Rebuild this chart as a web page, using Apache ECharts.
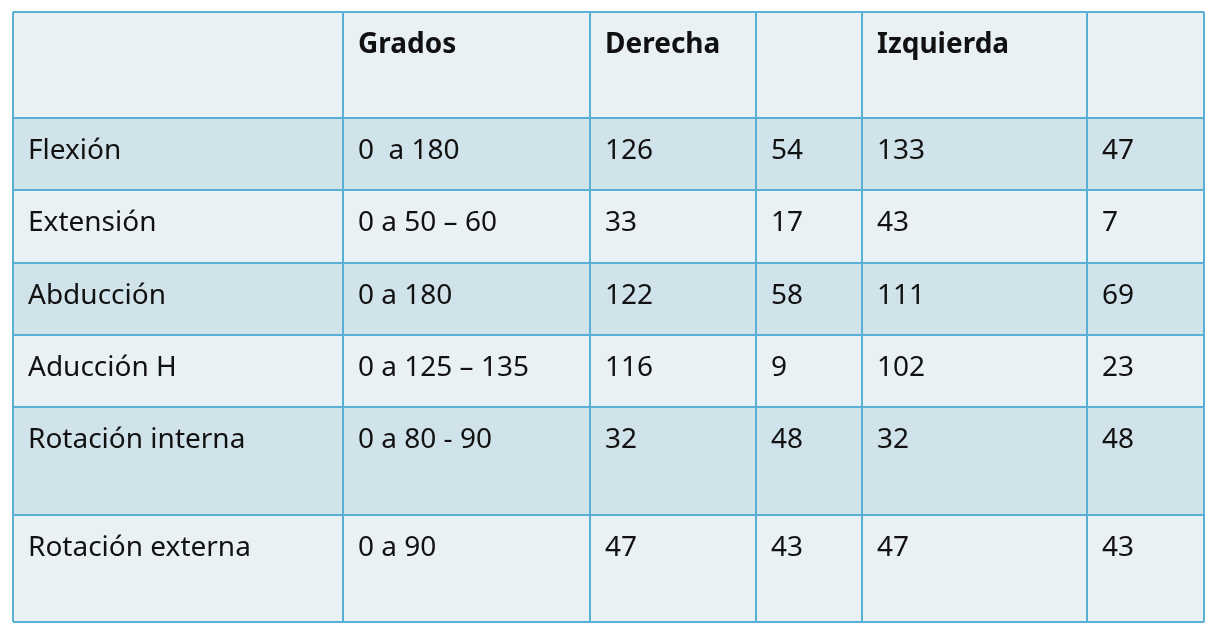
<!DOCTYPE html>
<html>
<head>
<meta charset="utf-8">
<script src="https://cdn.jsdelivr.net/npm/echarts@6/dist/echarts.min.js"></script>
<style>html,body{margin:0;padding:0;background:#fff}#chart{width:1217px;height:634px}</style>
</head>
<body>
<div id="chart"></div>
<script>
// datos de la tabla
var headers = ['', 'Grados', 'Derecha', '', 'Izquierda', ''];
var movimientos = ['Flexión', 'Extensión', 'Abducción', 'Aducción H', 'Rotación interna', 'Rotación externa'];
var grados = ['0  a 180', '0 a 50 – 60', '0 a 180', '0 a 125 – 135', '0 a 80 - 90', '0 a 90'];
var derecha = [126, 33, 122, 116, 32, 47];
var derechaResto = [54, 17, 58, 9, 48, 43];
var izquierda = [133, 43, 111, 102, 32, 47];
var izquierdaResto = [47, 7, 69, 23, 48, 43];

// bordes de columnas y filas (px)
var colX = [13, 343, 590, 756, 862, 1087, 1204];
var rowY = [12, 118, 190, 263, 335, 407, 515, 622];
var rowFill = ['#e9f1f5', '#d0e2ea', '#e9f1f5', '#d0e2ea', '#e9f1f5', '#d0e2ea', '#e9f1f5'];

var chart = echarts.init(document.getElementById('chart'));
var elements = [];

var rows = [headers];
for (var i = 0; i < movimientos.length; i++) {
    rows.push([movimientos[i], grados[i], String(derecha[i]), String(derechaResto[i]), String(izquierda[i]), String(izquierdaResto[i])]);
}

rows.forEach(function (row, r) {
    elements.push({
        type: 'rect',
        shape: { x: colX[0], y: rowY[r], width: colX[6] - colX[0], height: rowY[r + 1] - rowY[r] },
        style: { fill: rowFill[r] }
    });
    row.forEach(function (txt, c) {
        if (!txt) return;
        elements.push({
            type: 'text',
            x: colX[c] + 15,
            y: rowY[r] + 33,
            style: {
                text: txt,
                fill: '#111',
                font: (r === 0 ? 'bold ' : '') + '28px "Noto Sans", sans-serif',
                verticalAlign: 'middle'
            }
        });
    });
});

// líneas de la cuadrícula
colX.forEach(function (x) {
    elements.push({ type: 'line', shape: { x1: x, y1: rowY[0], x2: x, y2: rowY[rowY.length - 1] }, style: { stroke: '#5ab0d4', lineWidth: 2 } });
});
rowY.forEach(function (y) {
    elements.push({ type: 'line', shape: { x1: colX[0], y1: y, x2: colX[colX.length - 1], y2: y }, style: { stroke: '#5ab0d4', lineWidth: 2 } });
});

chart.setOption({ animation: false, graphic: { elements: elements } });
</script>
</body>
</html>
